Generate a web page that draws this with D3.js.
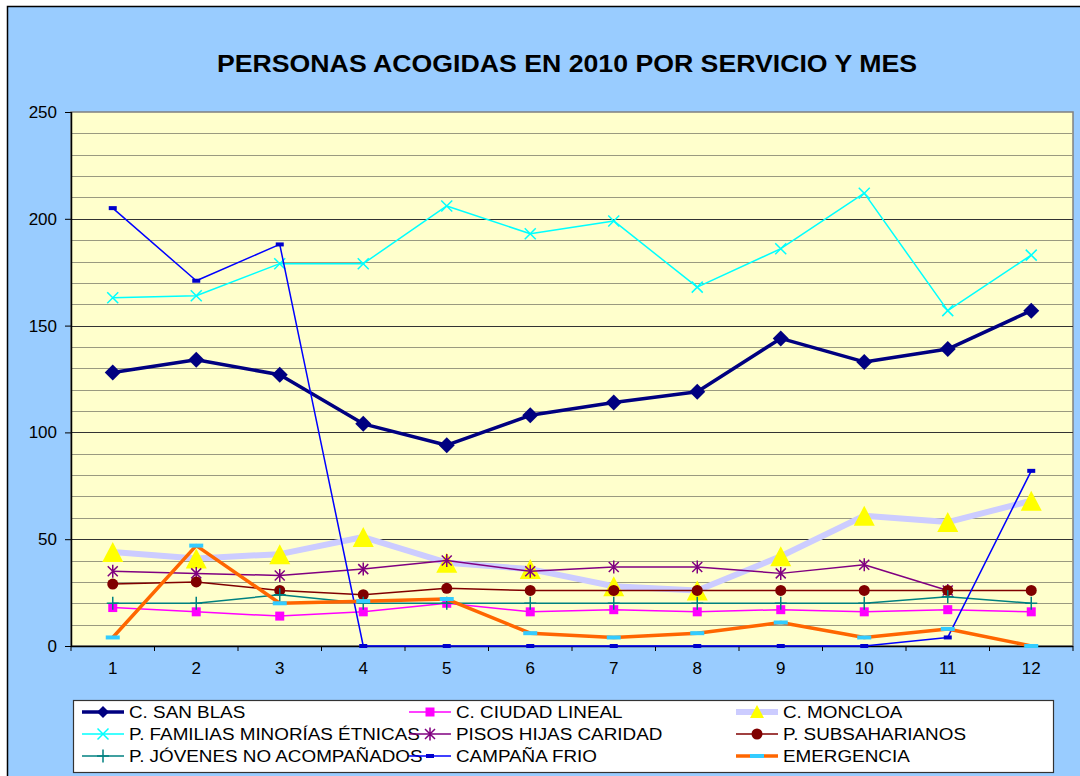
<!DOCTYPE html>
<html>
<head>
<meta charset="utf-8">
<script src="https://cdn.jsdelivr.net/npm/d3@7"></script>
<style>
  html, body { margin: 0; padding: 0; background: #fff; }
  svg { display: block; font-family: Arial, "Liberation Sans", sans-serif; }
</style>
</head>
<body>
<script>
// datos
const months = [1, 2, 3, 4, 5, 6, 7, 8, 9, 10, 11, 12]
const yTicks = [0, 50, 100, 150, 200, 250]

const sanBlas = [128, 134, 127, 104, 94, 108, 114, 119, 144, 133, 139, 157]
const ciudadLineal = [18, 16, 14, 16, 20, 16, 17, 16, 17, 16, 17, 16]
const moncloa = [44, 41, 43, 51, 39, 36, 28, 26, 42, 61, 58, 68]
const familias = [163, 164, 179, 179, 206, 193, 199, 168, 186, 212, 157, 183]
const pisos = [35, 34, 33, 36, 40, 35, 37, 37, 34, 38, 26, null]
const subsaharianos = [29, 30, 26, 24, 27, 26, 26, 26, 26, 26, 26, 26]
const jovenes = [20, 20, 24, 20, 20, 20, 20, 20, 20, 20, 23, 20]
const campanaFrio = [205, 171, 188, 0, 0, 0, 0, 0, 0, 0, 4, 82]
const emergencia = [4, 47, 20, 21, 22, 6, 4, 6, 11, 4, 8, 0]

const W = 1080
const H = 776
const plot = { left: 71, right: 1073, top: 112, bottom: 646 }

// marcadores estilo Excel
const markers = {
  diamond: (g, c) => g.append('path').attr('d', 'M0,-8L8,0L0,8L-8,0Z').attr('fill', c),
  square: (g, c) => g.append('rect').attr('x', -4.5).attr('y', -4.5).attr('width', 9).attr('height', 9).attr('fill', c),
  triangle: (g, c) => g.append('path').attr('d', 'M0,-10L10.5,10L-10.5,10Z').attr('fill', c),
  x: (g, c) => g.append('path').attr('d', 'M-5.5,-5.5L5.5,5.5M5.5,-5.5L-5.5,5.5').attr('stroke', c).attr('stroke-width', 1.5).attr('fill', 'none'),
  star: (g, c) => g.append('path').attr('d', 'M-5,-5L5,5M5,-5L-5,5M0,-6.5L0,6.5').attr('stroke', c).attr('stroke-width', 1.5).attr('fill', 'none'),
  circle: (g, c) => g.append('circle').attr('r', 5.5).attr('fill', c),
  plus: (g, c) => g.append('path').attr('d', 'M0,-6.5L0,6.5M-6,0L6,0').attr('stroke', c).attr('stroke-width', 1.5).attr('fill', 'none'),
  dashSmall: (g, c) => g.append('rect').attr('x', -4).attr('y', -2).attr('width', 8).attr('height', 4).attr('fill', c),
  dashWide: (g, c) => g.append('rect').attr('x', -7).attr('y', -2).attr('width', 14).attr('height', 4).attr('fill', c)
}

const series = [
  { name: 'C. SAN BLAS', values: sanBlas, color: '#000080', width: 3.5, marker: 'diamond', mcolor: '#000080' },
  { name: 'C. CIUDAD LINEAL', values: ciudadLineal, color: '#FF00FF', width: 1.5, marker: 'square', mcolor: '#FF00FF' },
  { name: 'C. MONCLOA', values: moncloa, color: '#CCCCFF', width: 6, marker: 'triangle', mcolor: '#FFFF00' },
  { name: 'P. FAMILIAS MINORÍAS ÉTNICAS', values: familias, color: '#00FFFF', width: 1.5, marker: 'x', mcolor: '#00FFFF' },
  { name: 'PISOS HIJAS CARIDAD', values: pisos, color: '#800080', width: 1.5, marker: 'star', mcolor: '#800080' },
  { name: 'P. SUBSAHARIANOS', values: subsaharianos, color: '#800000', width: 1.5, marker: 'circle', mcolor: '#800000' },
  { name: 'P. JÓVENES NO ACOMPAÑADOS', values: jovenes, color: '#008080', width: 1.5, marker: 'plus', mcolor: '#008080' },
  { name: 'CAMPAÑA FRIO', values: campanaFrio, color: '#0000FF', width: 1.5, marker: 'dashSmall', mcolor: '#0000CC' },
  { name: 'EMERGENCIA', values: emergencia, color: '#FF6600', width: 3.5, marker: 'dashWide', mcolor: '#33CCFF' }
]

const svg = d3.select('body').append('svg').attr('width', W).attr('height', H)

// fondo
svg.append('rect').attr('x', 0).attr('y', 0).attr('width', W).attr('height', H).attr('fill', '#fff')
svg.append('rect').attr('x', 7.5).attr('y', 6.5).attr('width', W).attr('height', H)
  .attr('fill', '#99CCFF').attr('stroke', '#000').attr('stroke-width', 1.5)

// titulo (el original esta algo estirado en horizontal)
svg.append('text')
  .attr('x', 217).attr('y', 72)
  .attr('font-size', 24).attr('font-weight', 'bold')
  .attr('textLength', 700).attr('lengthAdjust', 'spacingAndGlyphs')
  .text('PERSONAS ACOGIDAS EN 2010 POR SERVICIO Y MES')

const x = d3.scaleBand().domain(months).range([plot.left, plot.right]).padding(0)
const cx = (m) => x(m) + x.bandwidth() / 2
const y = d3.scaleLinear().domain([0, 250]).range([plot.bottom, plot.top])

// area del grafico
svg.append('rect')
  .attr('x', plot.left).attr('y', plot.top)
  .attr('width', plot.right - plot.left).attr('height', plot.bottom - plot.top)
  .attr('fill', '#FFFFCC').attr('stroke', '#808080').attr('stroke-width', 1.5)

// lineas de division
svg.append('g')
  .selectAll('line')
  .data(d3.range(10, 250, 10).filter((v) => v % 50 !== 0))
  .join('line')
  .attr('x1', plot.left).attr('x2', plot.right)
  .attr('y1', (d) => Math.round(y(d)) + 0.5).attr('y2', (d) => Math.round(y(d)) + 0.5)
  .attr('stroke', '#9A9A80').attr('stroke-width', 1.2)

svg.append('g')
  .selectAll('line')
  .data(yTicks.filter((v) => v > 0 && v < 250))
  .join('line')
  .attr('x1', plot.left).attr('x2', plot.right)
  .attr('y1', (d) => Math.round(y(d)) + 0.5).attr('y2', (d) => Math.round(y(d)) + 0.5)
  .attr('stroke', '#333').attr('stroke-width', 1.2)

// ejes
const yAxis = svg.append('g')
  .attr('transform', `translate(${plot.left},0)`)
  .call(d3.axisLeft(y).tickValues(yTicks).tickSize(6).tickPadding(8))
yAxis.selectAll('text').attr('font-size', 17).attr('fill', '#000').attr('font-family', 'Arial, "Liberation Sans", sans-serif')
yAxis.select('.domain').attr('d', `M0.5,${plot.top}V${plot.bottom}`).attr('stroke', '#000').attr('stroke-width', 1.5)

const xAxis = svg.append('g')
  .attr('transform', `translate(0,${plot.bottom})`)
  .call(d3.axisBottom(x).tickSize(0).tickPadding(16))
xAxis.selectAll('text').attr('font-size', 17).attr('fill', '#000').attr('font-family', 'Arial, "Liberation Sans", sans-serif')
xAxis.select('.domain').attr('d', `M${plot.left},0.5H${plot.right}`).attr('stroke', '#000').attr('stroke-width', 1.5)
xAxis.append('g')
  .selectAll('line')
  .data(months.concat([13]))
  .join('line')
  .attr('x1', (d) => (d <= 12 ? x(d) : plot.right)).attr('x2', (d) => (d <= 12 ? x(d) : plot.right))
  .attr('y1', 0).attr('y2', 5)
  .attr('stroke', '#000')

// series
const line = d3.line()
  .defined((d) => d.v !== null)
  .x((d) => cx(d.m))
  .y((d) => y(d.v))

series.forEach((s) => {
  const pts = months.map((m, i) => ({ m, v: s.values[i] }))
  const g = svg.append('g')
  g.append('path')
    .datum(pts)
    .attr('d', line)
    .attr('fill', 'none')
    .attr('stroke', s.color)
    .attr('stroke-width', s.width)
    .attr('stroke-linejoin', 'round')
  pts.filter((d) => d.v !== null).forEach((d) => {
    const mg = g.append('g').attr('transform', `translate(${cx(d.m)},${y(d.v)})`)
    markers[s.marker](mg, s.mcolor)
  })
})

// leyenda
const legend = svg.append('g')
legend.append('rect')
  .attr('x', 73.5).attr('y', 700.5).attr('width', 980).attr('height', 72)
  .attr('fill', '#fff').attr('stroke', '#333').attr('stroke-width', 1.2)

const colX = [82, 409, 736]
const rowY = [712, 734, 756]
series.forEach((s, i) => {
  const lx = colX[i % 3]
  const ly = rowY[Math.floor(i / 3)]
  const item = legend.append('g').attr('transform', `translate(${lx},${ly})`)
  item.append('line').attr('x1', 0).attr('x2', 42).attr('y1', 0).attr('y2', 0)
    .attr('stroke', s.color).attr('stroke-width', s.width)
  const mg = item.append('g').attr('transform', 'translate(21,0)')
  if (s.marker === 'triangle') {
    mg.append('path').attr('d', 'M0,-7L7,6L-7,6Z').attr('fill', s.mcolor)
  } else if (s.marker === 'diamond') {
    mg.append('path').attr('d', 'M0,-6L6,0L0,6L-6,0Z').attr('fill', s.mcolor)
  } else {
    markers[s.marker](mg, s.mcolor)
  }
  item.append('text')
    .attr('transform', 'translate(47,0) scale(1.11,1)')
    .attr('dy', '0.36em')
    .attr('font-size', 17)
    .text(s.name)
})
</script>
</body>
</html>
